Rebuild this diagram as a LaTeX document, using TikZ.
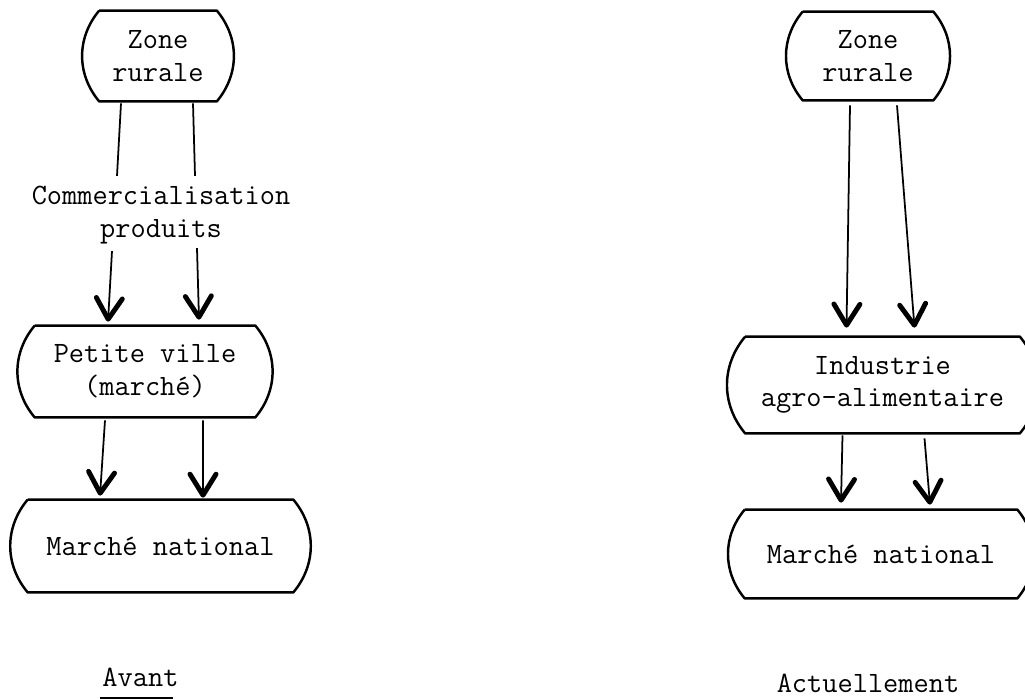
\documentclass[tikz,border=0pt]{standalone}
\usepackage{tikz}
\usetikzlibrary{arrows.meta}

\begin{document}
\begin{tikzpicture}[
  font=\ttfamily\fontsize{16.8}{18.6}\selectfont,
  boite/.style={inner sep=0pt, align=center},
  contour/.style={line width=1.4pt, line join=round},
  trait/.style={line width=1pt},
  fleche/.style={trait, -{Straight Barb[length=4.2mm, width=5.2mm, line width=2.8pt, round]}},
  titre/.style={inner sep=0pt}
]
\useasboundingbox (0,0) rectangle (20.5,-13.98);

% avant
\node[boite, minimum width=2.34cm, minimum height=1.80cm] (zoneA) at (3.16,-1.12) {Zone\\rurale};
\node[boite] (comm) at (3.22,-4.30) {Commercialisation\\produits};
\node[boite, minimum width=4.40cm, minimum height=1.82cm] (ville) at (2.90,-7.43) {Petite ville\\(marché)};
\node[boite, minimum width=5.30cm, minimum height=1.84cm] (marcheA) at (3.21,-10.92) {Marché national};
\node[titre] (avant) at (2.81,-13.54) {Avant};

% actuellement
\node[boite, minimum width=2.60cm, minimum height=1.76cm] (zoneB) at (17.36,-1.12) {Zone\\rurale};
\node[boite, minimum width=5.48cm, minimum height=1.92cm] (indus) at (17.65,-7.70) {Industrie\\agro-alimentaire};
\node[boite, minimum width=5.44cm, minimum height=1.76cm] (marcheB) at (17.62,-11.08) {Marché national};
\node[titre] (actu) at (17.36,-13.66) {Actuellement};

% contours des boites
\foreach \b in {zoneA,ville,marcheA,zoneB,indus,marcheB} {
  \draw[contour] (\b.north west) -- (\b.north east) to[out=-50,in=50] (\b.south east)
    -- (\b.south west) to[out=130,in=-130] (\b.north west);
}

% liaisons avant
\draw[trait] ([xshift=-0.74cm,yshift=-0.04cm]zoneA.south) -- ([xshift=-0.88cm,yshift=0.2cm]comm.north);
\draw[trait] ([xshift=0.70cm,yshift=-0.04cm]zoneA.south) -- ([xshift=0.68cm,yshift=0.2cm]comm.north);
\draw[fleche] ([xshift=-0.98cm,yshift=-0.14cm]comm.south) -- ([xshift=-0.74cm,yshift=0.08cm]ville.north);
\draw[fleche] ([xshift=0.72cm,yshift=-0.08cm]comm.south) -- ([xshift=1.08cm,yshift=0.12cm]ville.north);
\draw[fleche] ([xshift=-0.80cm,yshift=-0.06cm]ville.south) -- ([xshift=-1.21cm,yshift=0.08cm]marcheA.north);
\draw[fleche] ([xshift=1.16cm,yshift=-0.06cm]ville.south) -- ([xshift=0.85cm,yshift=0.04cm]marcheA.north);
\draw[line width=1.6pt] ([xshift=-0.05cm,yshift=-0.24cm]avant.south west) -- ([xshift=-0.12cm,yshift=-0.24cm]avant.south east);

% liaisons actuellement
\draw[fleche] ([xshift=-0.36cm,yshift=-0.1cm]zoneB.south) -- ([xshift=-0.72cm,yshift=0.18cm]indus.north);
\draw[fleche] ([xshift=0.58cm,yshift=-0.1cm]zoneB.south) -- ([xshift=0.64cm,yshift=0.18cm]indus.north);
\draw[fleche] ([xshift=-0.80cm,yshift=-0.04cm]indus.south) -- ([xshift=-0.80cm,yshift=0.14cm]marcheB.north);
\draw[fleche] ([xshift=0.84cm,yshift=-0.1cm]indus.south) -- ([xshift=0.98cm,yshift=0.1cm]marcheB.north);
\end{tikzpicture}
\end{document}
